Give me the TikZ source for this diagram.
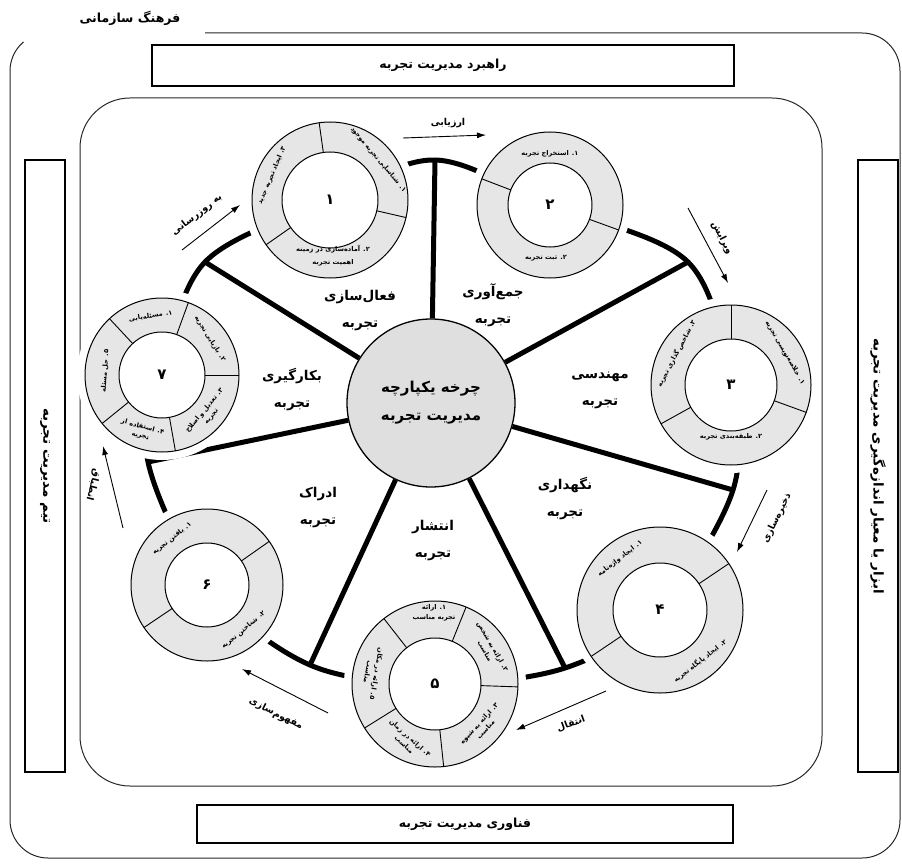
\documentclass[tikz,border=0pt]{standalone}
\usepackage{fontspec}
\newfontfamily\pfont[Script=Arabic]{DejaVu Sans}
\TeXXeTstate=1
\usetikzlibrary{arrows.meta}
\newcommand\rl[1]{\beginR#1\endR}
\definecolor{ringgray}{HTML}{E6E6E6}
\definecolor{midgray}{HTML}{DFDFDF}
\begin{document}
\begin{tikzpicture}[x=1pt,y=1pt,
 frame/.style={line width=1pt, draw=black!85},
 boxn/.style={draw, line width=1.3pt, inner sep=0pt, font=\pfont\bfseries\fontsize{12.5}{15}\selectfont},
 sidebox/.style={boxn, rotate=-90, minimum width=612pt, minimum height=40pt, font=\pfont\bfseries\fontsize{13.5}{16}\selectfont},
 sat/.style={circle, draw, line width=1pt, fill=ringgray, inner sep=0pt, outer sep=0pt, minimum size=#1, preaction={draw=white, line width=16pt}},
 inn/.style={circle, draw, line width=1pt, fill=white, inner sep=0pt, outer sep=0pt, minimum size=#1, font=\pfont\bfseries\fontsize{15}{15}\selectfont},
 div/.style={line width=0.9pt},
 rim/.style={line width=5pt},
 spoke/.style={line width=5pt},
 stage/.style={font=\pfont\bfseries\fontsize{13.5}{27}\selectfont, align=center, inner sep=0pt},
 rt/.style={font=\pfont\bfseries\fontsize{6.6}{9}\selectfont, align=center, inner sep=0pt},
 arr/.style={line width=0.9pt, -{Latex[length=9pt,width=6pt]}},
 alb/.style={font=\pfont\bfseries\fontsize{9.5}{11}\selectfont, inner sep=0pt},
]
\useasboundingbox (0,0) rectangle (902,-864);

% outer frame (organisational culture)
\draw[frame] (205,-33) -- (862,-33) arc[start angle=90,end angle=0,radius=38]
  -- (900,-820) arc[start angle=0,end angle=-90,radius=38]
  -- (48,-858) arc[start angle=270,end angle=180,radius=38]
  -- (10,-71) arc[start angle=180,end angle=130,radius=38];
\node[font=\pfont\bfseries\fontsize{12.5}{14}\selectfont] (culture) at (130,-18) {\rl{فرهنگ سازمانی}};

% inner frame
\draw[frame, rounded corners=50pt] (80,-98) rectangle (822,-786);

% boxes
\node[boxn, minimum width=582pt, minimum height=41pt] (topbox) at (443,-65.5) {\rl{راهبرد مدیریت تجربه}};
\node[boxn, minimum width=536pt, minimum height=38pt] (botbox) at (465,-824) {\rl{فناوری مدیریت تجربه}};
\node[sidebox] (leftbox) at (45,-466) {\rl{تیم مدیریت تجربه}};
\node[sidebox] (rightbox) at (878,-466) {\rl{ابزار یا معیار اندازه‌گیری مدیریت تجربه}};

% coordinates
\coordinate (p1) at (330,-200);
\coordinate (p2) at (550,-205);
\coordinate (p3) at (731,-385);
\coordinate (p4) at (660,-610);
\coordinate (p5) at (435,-684);
\coordinate (p6) at (207,-585);
\coordinate (p7) at (162,-375);
\coordinate (t1) at (435,-160);
\coordinate (t2) at (688,-262);
\coordinate (t3) at (733,-490);
\coordinate (t4) at (565,-668);
\coordinate (t5) at (310,-665);
\coordinate (t6) at (148,-462);
\coordinate (t7) at (205,-262);

% rim
\draw[rim] plot[smooth cycle, tension=0.55] coordinates {(t1) (p2) (t2) (p3) (t3) (p4) (t4) (p5) (t5) (p6) (t6) (p7) (t7) (p1)};

% centre
\node[circle, draw, line width=1.3pt, fill=midgray, minimum size=168pt, inner sep=0pt,
  font=\pfont\bfseries\fontsize{15}{28}\selectfont, align=center] (ctr) at (431,-403) {\rl{چرخه یکپارچه}\\\rl{مدیریت تجربه}};

% spokes
\draw[spoke] (ctr) -- (t1);
\draw[spoke] (ctr) -- (t2);
\draw[spoke] (ctr) -- (t3);
\draw[spoke] (ctr) -- (t4);
\draw[spoke] (ctr) -- (t5);
\draw[spoke] (ctr) -- (t6);
\draw[spoke] (ctr) -- (t7);

% satellites
\node[sat=156pt] (s1) at (p1) {};
\node[inn=96pt] (i1) at (p1) {۱};
\foreach \a in {98,347,215} \draw[div] (i1.\a) -- (s1.\a);
\node[sat=146pt] (s2) at (p2) {};
\node[inn=84pt] (i2) at (p2) {۲};
\foreach \a in {159,340} \draw[div] (i2.\a) -- (s2.\a);
\node[sat=160pt] (s3) at (p3) {};
\node[inn=92pt] (i3) at (p3) {۳};
\foreach \a in {90,340,209} \draw[div] (i3.\a) -- (s3.\a);
\node[sat=166pt] (s4) at (p4) {};
\node[inn=94pt] (i4) at (p4) {۴};
\foreach \a in {34,214} \draw[div] (i4.\a) -- (s4.\a);
\node[sat=166pt] (s5) at (p5) {};
\node[inn=92pt] (i5) at (p5) {۵};
\foreach \a in {68,128,358,212,276} \draw[div] (i5.\a) -- (s5.\a);
\node[sat=152pt] (s6) at (p6) {};
\node[inn=84pt] (i6) at (p6) {۶};
\foreach \a in {35,214} \draw[div] (i6.\a) -- (s6.\a);
\node[sat=154pt] (s7) at (p7) {};
\node[inn=86pt] (i7) at (p7) {۷};
\foreach \a in {70,133,0,280,219} \draw[div] (i7.\a) -- (s7.\a);

% ring texts
\node[rt, rotate=-50] (r1a) at ([shift={(40:63)}]p1) {\rl{۱. شناسایی تجربه موجود}};
\node[rt, rotate=67] (r1b) at ([shift={(157:63)}]p1) {\rl{۳. ایجاد تجربه جدید}};
\node[rt] (r1c) at (333,-256) {\rl{۲. آماده‌سازی در زمینه}\\[4pt]\rl{اهمیت تجربه}};
\node[rt] (r2a) at (550,-154) {\rl{۱. استخراج تجربه}};
\node[rt] (r2b) at (546,-258) {\rl{۲. ثبت تجربه}};
\node[rt, rotate=-60] (r3a) at ([shift={(31:63)}]p3) {\rl{۱. خلاصه‌نویسی تجربه}};
\node[rt, rotate=62] (r3b) at ([shift={(150:63)}]p3) {\rl{۳. شاخص گذاری تجربه}};
\node[rt] (r3c) at (731,-437) {\rl{۲. طبقه‌بندی تجربه}};
\node[rt, rotate=38] (r4a) at ([shift={(128:65)}]p4) {\rl{۱. ایجاد واژه‌نامه}};
\node[rt, rotate=38] (r4b) at ([shift={(-52:65)}]p4) {\rl{۲. ایجاد پایگاه تجربه}};
\node[rt] (r5a) at (434,-613) {\rl{۱. ارائه}\\[1pt]\rl{تجربه مناسب}};
\node[rt, rotate=-60] (r5b) at ([shift={(33:64)}]p5) {\rl{۲. ارائه به شخص}\\\rl{مناسب}};
\node[rt, rotate=47] (r5c) at ([shift={(-42:64)}]p5) {\rl{۳. ارائه به شیوه}\\\rl{مناسب}};
\node[rt, rotate=-42] (r5d) at ([shift={(244:64)}]p5) {\rl{۴. ارائه در زمان}\\\rl{مناسب}};
\node[rt, rotate=-100] (r5e) at ([shift={(170:64)}]p5) {\rl{۵. ارائه در مکان}\\\rl{مناسب}};
\node[rt, rotate=38] (r6a) at ([shift={(127:58)}]p6) {\rl{۱. یافتن تجربه}};
\node[rt, rotate=40] (r6b) at ([shift={(-51:58)}]p6) {\rl{۲. شناختن تجربه}};
\node[rt, rotate=8] (r7a) at ([shift={(101:60)}]p7) {\rl{۱. مسئله‌یابی}};
\node[rt, rotate=-58] (r7b) at ([shift={(37:60)}]p7) {\rl{۲. بازیابی تجربه}};
\node[rt, rotate=50] (r7c) at ([shift={(-40:60)}]p7) {\rl{۳. تعدیل و اصلاح}\\\rl{تجربه}};
\node[rt, rotate=-15] (r7d) at ([shift={(250:60)}]p7) {\rl{۴. استفاده از}\\\rl{تجربه}};
\node[rt, rotate=86] (r7e) at ([shift={(176:57)}]p7) {\rl{۵. حل مسئله}};

% stage labels
\node[stage] (g1) at (360,-311) {\rl{فعال‌سازی}\\\rl{تجربه}};
\node[stage] (g2) at (493,-305) {\rl{جمع‌آوری}\\\rl{تجربه}};
\node[stage] (g3) at (600,-390) {\rl{مهندسی}\\\rl{تجربه}};
\node[stage] (g4) at (565,-499) {\rl{نگهداری}\\\rl{تجربه}};
\node[stage] (g5) at (433,-541) {\rl{انتشار}\\\rl{تجربه}};
\node[stage] (g6) at (318,-508) {\rl{ادراک}\\\rl{تجربه}};
\node[stage] (g7) at (292,-390) {\rl{بکارگیری}\\\rl{تجربه}};

% transition arrows
\coordinate (a1s) at (403,-138); \coordinate (a1e) at (486,-135);
\coordinate (a2s) at (688,-208); \coordinate (a2e) at (728,-283);
\coordinate (a3s) at (767,-490); \coordinate (a3e) at (737,-552);
\coordinate (a4s) at (606,-691); \coordinate (a4e) at (516,-730);
\coordinate (a5s) at (328,-713); \coordinate (a5e) at (242,-669);
\coordinate (a6s) at (123,-528); \coordinate (a6e) at (103,-446);
\coordinate (a7s) at (182,-250); \coordinate (a7e) at (240,-205);
\draw[arr] (a1s) -- (a1e);
\draw[arr] (a2s) -- (a2e);
\draw[arr] (a3s) -- (a3e);
\draw[arr] (a4s) -- (a4e);
\draw[arr] (a5s) -- (a5e);
\draw[arr] (a6s) -- (a6e);
\draw[arr] (a7s) -- (a7e);
\node[alb] (l1) at (448,-123) {\rl{ارزیابی}};
\node[alb, rotate=-63] (l2) at (722,-238) {\rl{ویرایش}};
\node[alb, rotate=64] (l3) at (777,-518) {\rl{ذخیره‌سازی}};
\node[alb, rotate=20] (l4) at (571,-724) {\rl{انتقال}};
\node[alb, rotate=-27] (l5) at (276,-714) {\rl{مفهوم‌سازی}};
\node[alb, rotate=-104] (l6) at (93,-485) {\rl{انطباق}};
\node[alb, rotate=38] (l7) at (197,-215) {\rl{به روزرسانی}};
\end{tikzpicture}
\end{document}
